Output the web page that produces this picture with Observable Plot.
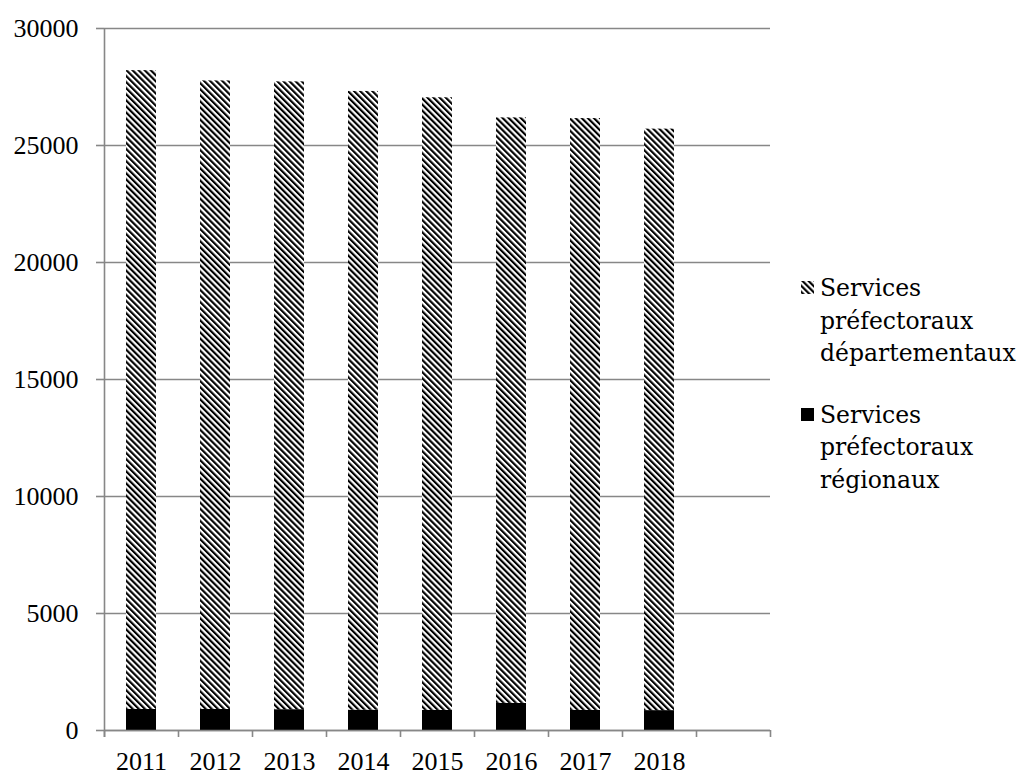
<!DOCTYPE html>
<html>
<head>
<meta charset="utf-8">
<script src="https://cdn.jsdelivr.net/npm/d3@7"></script>
<script src="https://cdn.jsdelivr.net/npm/@observablehq/plot@0.6"></script>
<style>
  html, body { margin: 0; padding: 0; background: #fff; }
  #wrap { position: relative; width: 1019px; height: 776px; overflow: hidden; }
  .legend-text {
    position: absolute;
    left: 820px;
    font-family: "DejaVu Serif", serif;
    font-size: 23.5px;
    line-height: 32.5px;
    color: #000;
    white-space: nowrap;
  }
  .swatch { position: absolute; left: 801px; }
</style>
</head>
<body>
<div id="wrap"></div>
<script>
// Effectifs des services préfectoraux, 2011-2018
const years = ["2011", "2012", "2013", "2014", "2015", "2016", "2017", "2018"];
const regionaux = [900, 900, 890, 870, 860, 1160, 860, 850];
const departementaux = [27300, 26860, 26830, 26440, 26180, 25020, 25290, 24850];
const seriesNames = ["Services préfectoraux régionaux", "Services préfectoraux départementaux"];
const legendLines = [
  ["Services", "préfectoraux", "départementaux"],
  ["Services", "préfectoraux", "régionaux"]
];
const yTicks = [0, 5000, 10000, 15000, 20000, 25000, 30000];

// one empty slot after the last year, as on the category axis
const slots = [...years, ""];

const rows = [
  ...years.map((year, i) => ({year, series: seriesNames[0], value: regionaux[i]})),
  ...years.map((year, i) => ({year, series: seriesNames[1], value: departementaux[i]}))
];

const axisGray = "#878787";
const half = 37; // half a category slot, for the boundary ticks

const svg = Plot.plot({
  width: 1019,
  height: 776,
  marginLeft: 104,
  marginRight: 249,
  marginTop: 28,
  marginBottom: 46,
  style: {fontFamily: "'Liberation Serif', serif", fontSize: "26px", color: "#000", background: "#fff", overflow: "visible"},
  x: {type: "band", domain: slots, paddingInner: 0.6, paddingOuter: 0.3, label: null},
  y: {domain: [0, 30000], label: null},
  color: {type: "ordinal", domain: seriesNames, range: ["#000", "url(#hatch)"]},
  marks: [
    Plot.ruleY(yTicks, {stroke: axisGray, strokeWidth: 1.6}),
    Plot.barY(rows, Plot.stackY({x: "year", y: "value", fill: "series"})),
    Plot.ruleY([0], {stroke: axisGray, strokeWidth: 1.6}),
    // vertical axis line
    Plot.ruleX(years.slice(0, 1), {dx: -half, stroke: axisGray, strokeWidth: 1.6, insetBottom: -7}),
    // category boundary ticks
    Plot.ruleX(slots, {dx: -half, y1: 0, y2: 0, insetBottom: -7, stroke: axisGray, strokeWidth: 1.6}),
    Plot.ruleX(slots.slice(-1), {dx: half, y1: 0, y2: 0, insetBottom: -7, stroke: axisGray, strokeWidth: 1.6}),
    Plot.axisY({ticks: yTicks, tickSize: 8, tickPadding: 18, stroke: axisGray, strokeWidth: 1.6, tickFormat: d => String(d)}),
    Plot.axisX({tickSize: 0, tickPadding: 21})
  ]
});

// diagonal hatch used by the "départementaux" bars
function addHatch(target, id) {
  const s = 4.3;
  const defs = d3.select(target).insert("defs", ":first-child");
  const p = defs.append("pattern")
    .attr("id", id)
    .attr("patternUnits", "userSpaceOnUse")
    .attr("width", s)
    .attr("height", s)
    .attr("patternTransform", "rotate(-45)");
  p.append("rect").attr("width", s).attr("height", s).attr("fill", "#fff");
  p.append("rect").attr("width", s / 2).attr("height", s).attr("fill", "#000");
}
addHatch(svg, "hatch");

const wrap = document.getElementById("wrap");
wrap.appendChild(svg);

// legend on the right
const legendTops = [272.1, 398.6];
const swatchTops = [281, 408];
const swatchSize = 13;
const swatchFills = ["url(#hatch)", "#000"];
legendLines.forEach((lines, k) => {
  const sw = d3.select(wrap).append("svg")
    .attr("class", "swatch")
    .style("top", swatchTops[k] + "px")
    .attr("width", swatchSize)
    .attr("height", swatchSize);
  sw.append("rect").attr("width", swatchSize).attr("height", swatchSize).attr("fill", swatchFills[k]);
  const t = d3.select(wrap).append("div")
    .attr("class", "legend-text")
    .style("top", legendTops[k] + "px");
  lines.forEach(line => t.append("div").text(line));
});
</script>
</body>
</html>
